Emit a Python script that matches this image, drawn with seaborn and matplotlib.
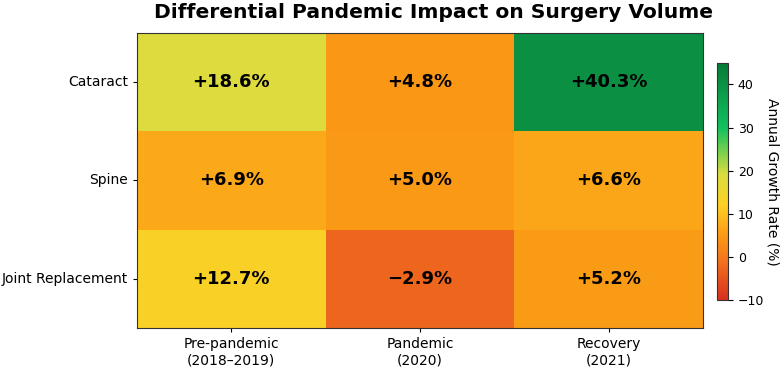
import numpy as np
import pandas as pd
import matplotlib
matplotlib.use("Agg")
import matplotlib.pyplot as plt
import seaborn as sns
from matplotlib.colors import LinearSegmentedColormap

procedures = ["Cataract", "Spine", "Joint Replacement"]
periods = ["Pre-pandemic\n(2018–2019)", "Pandemic\n(2020)", "Recovery\n(2021)"]
growth_cataract = [18.6, 4.8, 40.3]
growth_spine = [6.9, 5.0, 6.6]
growth_joint = [12.7, -2.9, 5.2]

df = pd.DataFrame([growth_cataract, growth_spine, growth_joint],
                  index=procedures, columns=periods)

labels = df.map(lambda v: f"+{v:.1f}%" if v >= 0 else f"\u2212{abs(v):.1f}%")

# custom red -> orange -> yellow -> green map
vmin, vmax = -10, 45
stops = [(-10, "#d7301f"), (0, "#f77a1c"), (5, "#fa9a15"), (12, "#fcd024"),
         (19, "#dcdc3e"), (30, "#12c15e"), (45, "#077a38")]
cmap = LinearSegmentedColormap.from_list(
    "growth", [((v - vmin) / (vmax - vmin), c) for v, c in stops])

fig = plt.figure(figsize=(7.82, 3.68), dpi=100)
ax = fig.add_axes([0.175, 0.109, 0.724, 0.802])
cax = fig.add_axes([0.917, 0.185, 0.014, 0.644])

sns.heatmap(df, ax=ax, cbar_ax=cax, cmap=cmap, vmin=vmin, vmax=vmax,
            annot=labels, fmt="",
            annot_kws={"fontsize": 13, "fontweight": "bold", "color": "black"})

fig.text(0.554, 0.965, "Differential Pandemic Impact on Surgery Volume",
         fontsize=14.6, fontweight="bold", ha="center", va="center")
ax.tick_params(axis="both", labelsize=10, length=3)
ax.set_yticklabels(procedures, rotation=0)
ax.set_xticklabels(periods, rotation=0)
for s in ax.spines.values():
    s.set_visible(True)
    s.set_color("#333333")
    s.set_linewidth(0.8)

cbar = ax.collections[0].colorbar
cbar.set_ticks([-10, 0, 10, 20, 30, 40])
cbar.ax.tick_params(labelsize=9)
cbar.set_label("Annual Growth Rate (%)", rotation=270, labelpad=11, fontsize=10)
cbar.outline.set_visible(True)
cbar.outline.set_edgecolor("#333333")
cbar.outline.set_linewidth(0.8)

fig.savefig("out.png", dpi=100)
